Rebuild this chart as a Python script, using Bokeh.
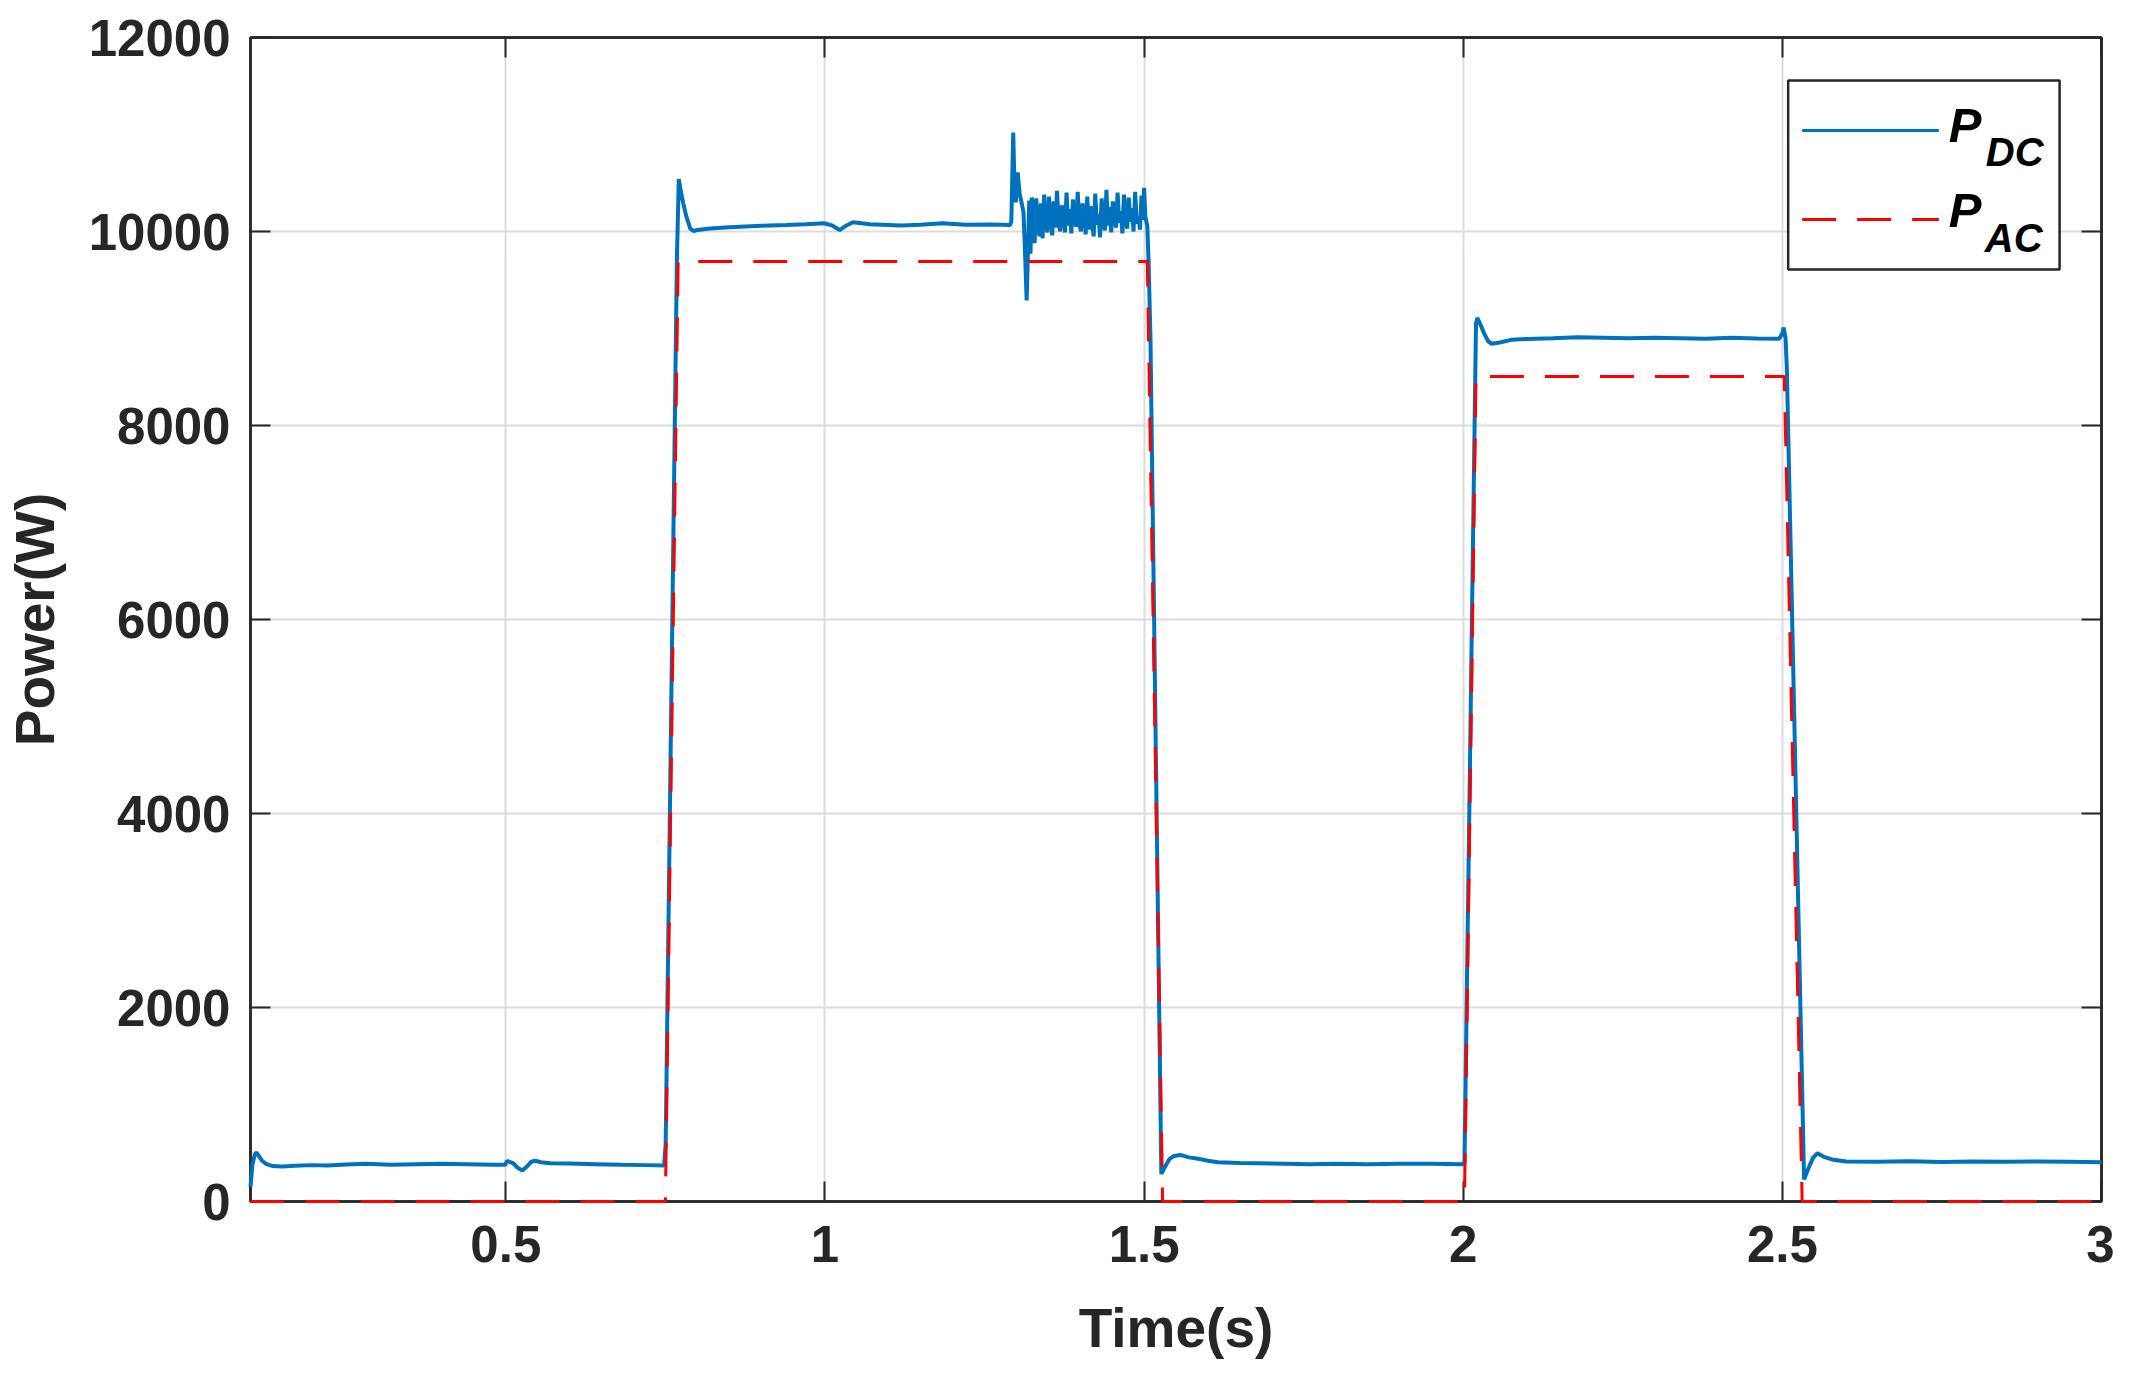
from bokeh.plotting import figure
from bokeh.models import (Range1d, FixedTicker, LinearAxis, BoxAnnotation,
                          CustomJSTickFormatter)
from bokeh.core.properties import value
from bokeh.embed import file_html
from bokeh.resources import INLINE

# ---------------- data ----------------
t_dc = [0.100, 0.103, 0.107, 0.109, 0.112, 0.118, 0.125, 0.135, 0.150, 0.170,
        0.195, 0.220, 0.250, 0.280, 0.320, 0.360, 0.400, 0.440, 0.480, 0.499,
        0.502, 0.507, 0.512, 0.519, 0.526, 0.533, 0.540, 0.546, 0.555, 0.570,
        0.600, 0.640, 0.680, 0.720, 0.748, 0.7505, 0.768, 0.771, 0.774, 0.778,
        0.783, 0.789, 0.794, 0.800, 0.820, 0.850, 0.900, 0.940, 0.970, 0.999,
        1.012, 1.023, 1.033, 1.044, 1.070, 1.119, 1.150, 1.184, 1.220, 1.260,
        1.290, 1.292, 1.295, 1.297, 1.299, 1.302, 1.305, 1.308, 1.311, 1.313,
        1.316, 1.318, 1.320, 1.322, 1.324]
p_dc = [150, 380, 490, 505, 480, 420, 385, 365, 360, 368,
        375, 370, 382, 388, 380, 385, 390, 385, 380, 378,
        420, 405, 392, 345, 320, 360, 410, 420, 405, 395,
        392, 385, 378, 375, 372, 600, 9700, 10540, 10420, 10290,
        10150, 10030, 10005, 10015, 10030, 10045, 10060, 10068, 10075, 10085,
        10060, 10015, 10060, 10095, 10075, 10062, 10070, 10085, 10070, 10072,
        10068, 10100, 11020, 10460, 10300, 10610, 10390, 10300, 10200, 9880,
        9290, 9780, 10320, 9770, 10350]

# oscillating segment 1.326 s ... 1.4985 s (step 2.5 ms)
t_osc = [1.3260, 1.3285, 1.3310, 1.3335, 1.3360, 1.3385, 1.3410, 1.3435, 1.3460, 1.3485,
         1.3510, 1.3535, 1.3560, 1.3585, 1.3610, 1.3635, 1.3660, 1.3685, 1.3710, 1.3735,
         1.3760, 1.3785, 1.3810, 1.3835, 1.3860, 1.3885, 1.3910, 1.3935, 1.3960, 1.3985,
         1.4010, 1.4035, 1.4060, 1.4085, 1.4110, 1.4135, 1.4160, 1.4185, 1.4210, 1.4235,
         1.4260, 1.4285, 1.4310, 1.4335, 1.4360, 1.4385, 1.4410, 1.4435, 1.4460, 1.4485,
         1.4510, 1.4535, 1.4560, 1.4585, 1.4610, 1.4635, 1.4660, 1.4685, 1.4710, 1.4735,
         1.4760, 1.4785, 1.4810, 1.4835, 1.4860, 1.4885, 1.4910, 1.4935, 1.4960, 1.4985]
p_osc = [10250, 9880, 10340, 10120, 9950, 10290, 9930, 10380, 10080, 9990,
         10360, 10150, 9960, 10310, 10040, 10420, 10110, 10000, 10270, 10180,
         9990, 10400, 10060, 10230, 9980, 10330, 10140, 10050, 10410, 10090,
         10000, 10290, 10200, 9970, 10360, 10020, 10260, 10110, 9950, 10390,
         10070, 10180, 9940, 10340, 10120, 10010, 10430, 10060, 10250, 9990,
         10310, 10170, 10040, 10400, 10090, 10210, 9980, 10380, 10130, 10030,
         10350, 10100, 10240, 10000, 10410, 10080, 10160, 10020, 10370, 10120]

t_dc2 = [1.500, 1.502, 1.505, 1.507, 1.510, 1.527, 1.533, 1.540, 1.547, 1.557,
         1.570, 1.585, 1.600, 1.616, 1.650, 1.679, 1.720, 1.760, 1.800, 1.850,
         1.900, 1.950, 1.999, 2.002, 2.020, 2.022, 2.027, 2.033, 2.039, 2.044,
         2.052, 2.059, 2.075, 2.101, 2.140, 2.179, 2.220, 2.260, 2.300, 2.340,
         2.380, 2.420, 2.460, 2.495, 2.500, 2.502, 2.505, 2.507, 2.534, 2.540,
         2.548, 2.555, 2.565, 2.580, 2.600, 2.650, 2.700, 2.750, 2.800, 2.850,
         2.900, 2.950, 3.000]
p_dc2 = [10450, 10150, 10060, 9700, 8900, 285, 360, 440, 470, 480,
         455, 440, 420, 405, 398, 395, 390, 385, 388, 385,
         390, 388, 385, 400, 9050, 9110, 9040, 8945, 8870, 8842,
         8850, 8858, 8883, 8893, 8900, 8910, 8905, 8900, 8905, 8900,
         8895, 8905, 8898, 8895, 8950, 9010, 8900, 8600, 227, 330,
         450, 498, 460, 430, 412, 410, 415, 408, 412, 410,
         412, 410, 405]

t_ac = [0.100, 0.750, 0.770, 1.505, 1.529, 2.002, 2.020, 2.503, 2.531, 3.000]
p_ac = [0, 0, 9690, 9690, 0, 0, 8505, 8505, 0, 0]

x_ticks = [0.5, 1, 1.5, 2, 2.5, 3]
y_ticks = [0, 2000, 4000, 6000, 8000, 10000, 12000]

legend_main = ["P", "P"]
legend_sub = ["DC", "AC"]

time_dc = t_dc + t_osc + t_dc2
power_dc = p_dc + p_osc + p_dc2

# ---------------- styling ----------------
FONT = "Liberation Sans"
TXT = "#262626"
BLUE = "#0072BD"
RED = "#FF0000"
DASH = "34 21"

X0, X1, Y0, Y1 = 0.1, 3.0, 0, 12000
BL, BR, BT, BB = 246, 13, 37, 163          # borders around the plot frame
FW, FH = 1855, 1164                         # frame size

p = figure(width=BL + FW + BR, height=BT + FH + BB, output_backend="svg",
           toolbar_location=None,
           x_range=Range1d(X0, X1), y_range=Range1d(Y0, Y1),
           min_border_left=BL, min_border_right=BR, min_border_top=BT,
           min_border_bottom=BB, background_fill_color="white",
           border_fill_color="white")

p.outline_line_color = TXT
p.outline_line_width = 2.5

fmt = CustomJSTickFormatter(code="return tick.toString();")

for ax in (p.xaxis[0], p.yaxis[0]):
    ax.major_label_text_font = FONT
    ax.major_label_text_font_style = "bold"
    ax.major_label_text_font_size = "51px"
    ax.major_label_text_color = TXT
    ax.axis_label_text_font = FONT
    ax.axis_label_text_font_style = "bold"
    ax.axis_label_text_font_size = "55px"
    ax.axis_label_text_color = TXT
    ax.axis_line_color = TXT
    ax.axis_line_width = 2.5
    ax.major_tick_line_color = TXT
    ax.major_tick_line_width = 2
    ax.major_tick_in = 20
    ax.major_tick_out = 0
    ax.minor_tick_line_color = None
    ax.formatter = fmt

p.xaxis[0].ticker = FixedTicker(ticks=x_ticks)
p.yaxis[0].ticker = FixedTicker(ticks=y_ticks)
p.xaxis[0].axis_label = "Time(s)"
p.yaxis[0].axis_label = "Power(W)"
p.xaxis[0].major_label_standoff = 24
p.xaxis[0].axis_label_standoff = 32
p.yaxis[0].major_label_standoff = 20
p.yaxis[0].axis_label_standoff = 20

# mirrored ticks on top / right (box style), without labels
blank = CustomJSTickFormatter(code="return '';")
for loc, tk in (("above", x_ticks), ("right", y_ticks)):
    a = LinearAxis(ticker=FixedTicker(ticks=tk), formatter=blank)
    a.major_label_text_color = None
    a.major_label_standoff = 0
    a.axis_line_color = TXT
    a.axis_line_width = 2.5
    a.major_tick_line_color = TXT
    a.major_tick_line_width = 2
    a.major_tick_in = 20
    a.major_tick_out = 0
    a.minor_tick_line_color = None
    p.add_layout(a, loc)

p.xgrid.ticker = FixedTicker(ticks=x_ticks)
p.ygrid.ticker = FixedTicker(ticks=y_ticks)
for g in (p.xgrid[0], p.ygrid[0]):
    g.grid_line_color = "#dcdcdc"
    g.grid_line_width = 2

# ---------------- data lines ----------------
p.line(time_dc, power_dc, line_color=BLUE, line_width=4, level="overlay")
p.line(t_ac, p_ac, line_color=RED, line_width=3, line_dash=DASH, level="overlay")


# ---------------- legend (box, samples, P with subscripts) ----------------
def px_to_data(px, py):
    """reference-picture pixel -> data coordinates"""
    return (X0 + (px - BL) / FW * (X1 - X0),
            Y1 - (py - BT) / FH * (Y1 - Y0))


bx0, by0 = px_to_data(1787, 80)
bx1, by1 = px_to_data(2059, 269)
p.add_layout(BoxAnnotation(left=bx0, right=bx1, top=by0, bottom=by1,
                           fill_color="white", fill_alpha=1,
                           line_color=TXT, line_alpha=1, line_width=2.5,
                           level="glyph"))

sample_px = [(130, BLUE, "solid"), (219, RED, DASH)]
for py, col, dash in sample_px:
    (sx0, sy), (sx1, _) = px_to_data(1801, py), px_to_data(1938, py)
    p.line([sx0, sx1], [sy, sy], line_color=col, line_width=3,
           line_dash=dash, level="overlay")

main_xy = [px_to_data(1948, 124), px_to_data(1948, 209)]
sub_xy = [px_to_data(1985, 151), px_to_data(1984, 237)]
p.text(x=[q[0] for q in main_xy], y=[q[1] for q in main_xy], text=legend_main,
       text_font=value(FONT), text_font_style="bold italic",
       text_font_size="49px", text_color="black", text_baseline="alphabetic",
       text_align="left", level="overlay")
p.text(x=[q[0] for q in sub_xy], y=[q[1] for q in sub_xy], text=legend_sub,
       text_font=value(FONT), text_font_style="bold italic",
       text_font_size="40px", text_color="black", text_baseline="alphabetic",
       text_align="left", level="overlay")

open("out.html", "w").write(file_html(p, INLINE))
